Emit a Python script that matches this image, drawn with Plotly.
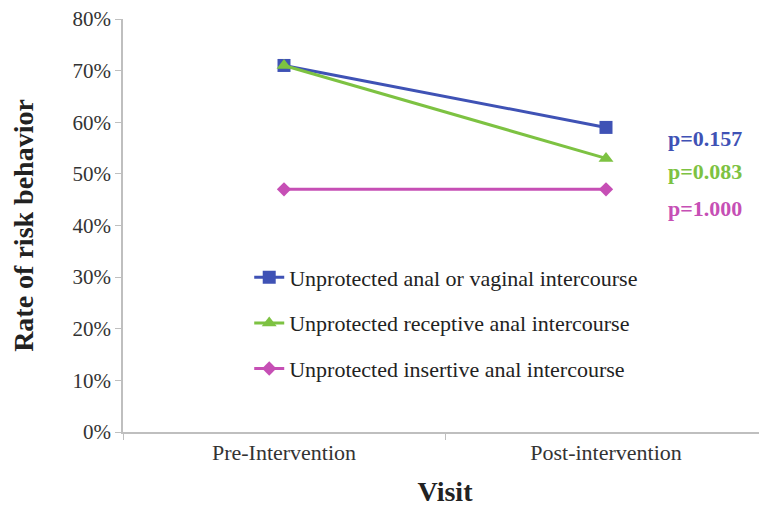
import plotly.graph_objects as go

categories = ["Pre-Intervention", "Post-intervention"]
series_names = [
    "Unprotected anal or vaginal intercourse",
    "Unprotected receptive anal intercourse",
    "Unprotected insertive anal intercourse",
]
vaginal_or_anal = [0.71, 0.59]
receptive_anal = [0.71, 0.53]
insertive_anal = [0.47, 0.47]
p_values = ["p=0.157", "p=0.083", "p=1.000"]

colors = ["#3F52B5", "#7DC242", "#C64FB5"]
symbols = ["square", "triangle-up", "diamond"]
msizes = [13, 13, 11]
series = [vaginal_or_anal, receptive_anal, insertive_anal]

fig = go.Figure()
for i, (name, vals) in enumerate(zip(series_names, series)):
    fig.add_trace(go.Scatter(
        x=categories, y=vals, name=name, mode="lines+markers",
        line=dict(color=colors[i], width=3),
        marker=dict(symbol=symbols[i], size=msizes[i], color=colors[i]),
        legendgroup=f"g{i}",
    ))

ann_y = [0.568, 0.504, 0.433]
for i, p in enumerate(p_values):
    fig.add_annotation(
        x=0.904, y=ann_y[i], xref="paper", yref="y", text=f"<b>{p}</b>",
        showarrow=False, xanchor="center",
        font=dict(family="Liberation Serif", size=22, color=colors[i]),
    )

fig.update_layout(
    width=759, height=504,
    margin=dict(l=115, r=0, t=11, b=80),
    paper_bgcolor="white", plot_bgcolor="white",
    font=dict(family="Liberation Serif", color="#333333"),
    showlegend=True,
    legend=dict(
        x=0.196, y=0.425, xanchor="left", yanchor="top",
        font=dict(family="Liberation Serif", size=22, color="#222222"),
        bgcolor="rgba(0,0,0,0)", tracegroupgap=14, itemwidth=30,
    ),
    xaxis=dict(
        type="category", range=[-0.5, 1.5],
        showline=True, linecolor="#BFBFBF", linewidth=1.5,
        ticks="outside", tickson="boundaries", ticklen=6, tickcolor="#BFBFBF",
        tickfont=dict(size=22, color="#333333"),
        showgrid=False, zeroline=False,
        title=dict(text="<b>Visit</b>", font=dict(size=28, color="#222222"), standoff=17),
    ),
    yaxis=dict(
        range=[0, 0.8], dtick=0.1, tickformat=".0%",
        showline=True, linecolor="#BFBFBF", linewidth=1.5,
        ticks="outside", ticklen=6, tickcolor="#BFBFBF",
        tickfont=dict(size=21, color="#333333"),
        ticklabeloverflow="allow",
        showgrid=False, zeroline=False,
        title=dict(text="<b>Rate of risk behavior</b>", font=dict(size=28, color="#222222"), standoff=34),
    ),
)

fig.write_html("out.html")
